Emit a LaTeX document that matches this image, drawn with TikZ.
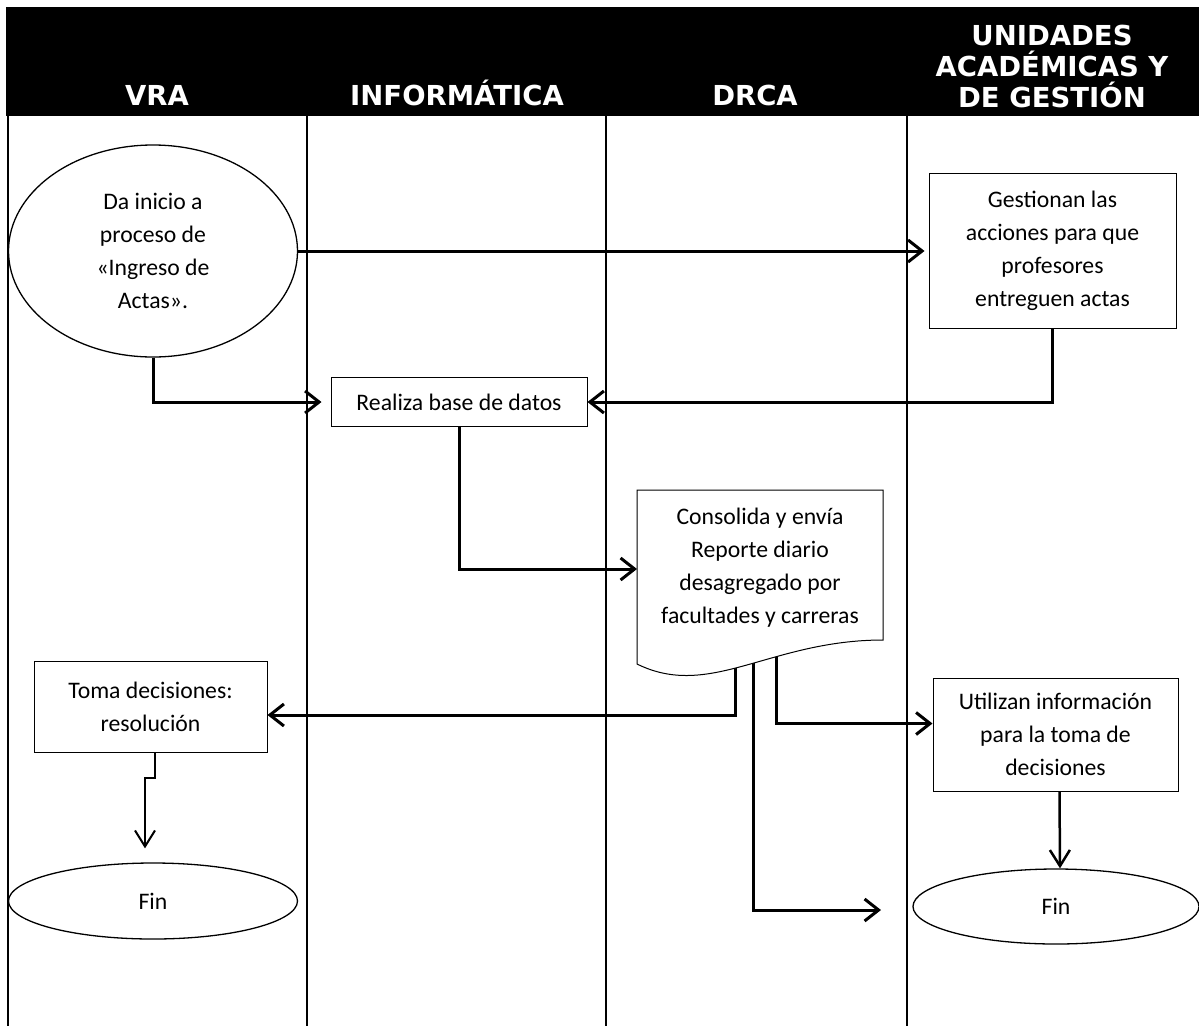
\documentclass[tikz,border=0pt]{standalone}
\usepackage{fontspec}
\setmainfont{Carlito}
\newfontfamily\headfont{DejaVu Sans}
\usetikzlibrary{arrows.meta,shapes.geometric}
\begin{document}
\begin{tikzpicture}[x=1pt,y=-1pt,
  lane/.style={line width=2pt},
  head/.style={text=white,font=\headfont\bfseries\fontsize{27.5}{31}\selectfont,align=center,inner sep=0},
  box/.style={draw,line width=1pt,rectangle,inner sep=0,font=\fontsize{23.7}{33}\selectfont,align=center},
  oval/.style={draw,line width=1.3pt,ellipse,inner sep=0,font=\fontsize{23.7}{33}\selectfont,align=center},
  doctext/.style={inner sep=0,font=\fontsize{23.7}{33}\selectfont,align=center},
  conn/.style={line width=3pt,-{Straight Barb[length=14pt,width=22pt]}},
  thinconn/.style={line width=2pt,-{Straight Barb[length=16pt,width=20pt]}},
  midconn/.style={line width=2.5pt,-{Straight Barb[length=16pt,width=20pt]}}
]
\useasboundingbox (0,0) rectangle (1199,1026);
% header band
\fill[black] (6,7) rectangle (1199,116);
\node[head,anchor=base] (hvra) at (157,105) {VRA};
\node[head,anchor=base] (hinf) at (457,105) {INFORMÁTICA};
\node[head,anchor=base] (hdrca) at (755,105) {DRCA};
\node[head] (huni) at (1052,66) {UNIDADES\\ACADÉMICAS Y\\DE GESTIÓN};
% lanes
\draw[lane] (8,116) -- (8,1026);
\draw[lane] (307,116) -- (307,1026);
\draw[lane] (606,116) -- (606,1026);
\draw[lane] (907,116) -- (907,1026);

% nodes
\node[oval,minimum width=289pt,minimum height=212pt] (start) at (153,251) {Da inicio a\\proceso de\\«Ingreso de\\Actas».};
\node[box,minimum width=247pt,minimum height=155pt] (gest) at (1052.5,250.5) {Gestionan las\\acciones para que\\profesores\\entreguen actas};
\node[box,minimum width=256pt,minimum height=49pt] (rbd) at (459,402) {Realiza base de datos};
\node[box,minimum width=233pt,minimum height=91pt] (toma) at (150.5,706.5) {Toma decisiones:\\resolución};
\node[box,minimum width=245pt,minimum height=113pt] (util) at (1055.5,734.5) {Utilizan información\\para la toma de\\decisiones};
\node[oval,minimum width=289pt,minimum height=76pt] (finL) at (153,901) {Fin};
\node[oval,minimum width=286pt,minimum height=75pt] (finR) at (1056,906.5) {Fin};

% document connectors start points (drawn before the document shape)
\coordinate (d1) at (735,650);
\coordinate (d2) at (753,650);
\coordinate (d3) at (776,645);
\coordinate (docw) at (637,569);
\coordinate (freeend) at (881,910);

\draw[conn] (d1) |- ([yshift=-8.5pt]toma.east);
\draw[conn] (d2) |- (freeend);
\draw[conn] (d3) |- ([yshift=11pt]util.west);

% document shape
\draw[line width=1pt,fill=white] (637,490) -- (883,490) -- (883,640)
  .. controls (770,640) and (710,700) .. (637,664) -- cycle;
\node[doctext] (doc) at (760,568) {Consolida y envía\\Reporte diario\\desagregado por\\facultades y carreras};

% connectors
\draw[conn,shorten >=4pt] (start.east) -- (gest.west |- start.east);
\draw[conn,shorten >=9pt] (start.south) |- (rbd.west);
\draw[conn] (gest.south) |- (rbd.east);
\draw[conn] (rbd.south) |- (docw);
\draw[thinconn,shorten >=14pt] ([xshift=4.5pt]toma.south) -- ++(0,25) -| ([xshift=-8pt]finL.north);
\draw[midconn] ([xshift=4pt]util.south) -- ([xshift=4pt]finR.north);
\end{tikzpicture}
\end{document}
